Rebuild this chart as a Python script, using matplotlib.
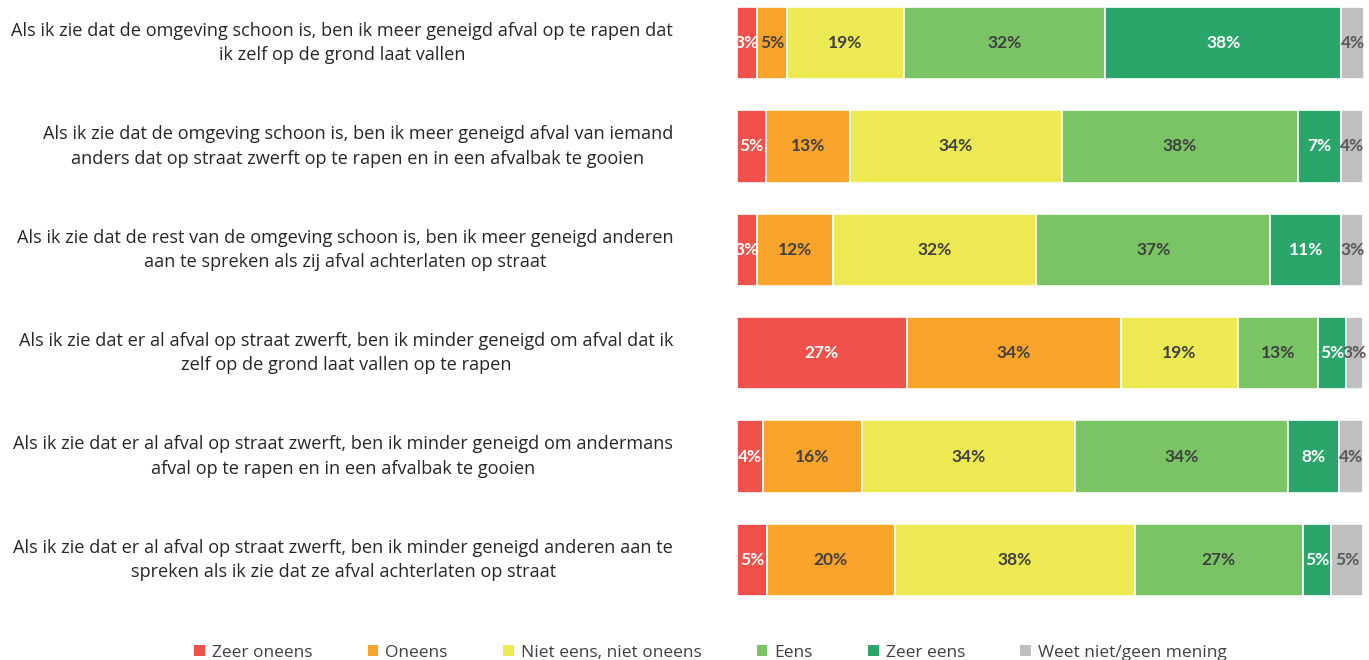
import numpy as np
import matplotlib.pyplot as plt
from matplotlib.patches import Patch

plt.rcParams['font.family'] = ['Open Sans', 'DejaVu Sans']

# Stellingen (van boven naar beneden)
stellingen = [
    "Als ik zie dat de omgeving schoon is, ben ik meer geneigd afval op te rapen dat\nik zelf op de grond laat vallen",
    "Als ik zie dat de omgeving schoon is, ben ik meer geneigd afval van iemand\nanders dat op straat zwerft op te rapen en in een afvalbak te gooien",
    "Als ik zie dat de rest van de omgeving schoon is, ben ik meer geneigd anderen\naan te spreken als zij afval achterlaten op straat",
    "Als ik zie dat er al afval op straat zwerft, ben ik minder geneigd om afval dat ik\nzelf op de grond laat vallen op te rapen",
    "Als ik zie dat er al afval op straat zwerft, ben ik minder geneigd om andermans\nafval op te rapen en in een afvalbak te gooien",
    "Als ik zie dat er al afval op straat zwerft, ben ik minder geneigd anderen aan te\nspreken als ik zie dat ze afval achterlaten op straat",
]

categorieen = ["Zeer oneens", "Oneens", "Niet eens, niet oneens", "Eens", "Zeer eens",
               "Weet niet/geen mening"]

zeer_oneens = [3.2, 4.6, 3.2, 27.1, 4.1, 4.8]
oneens = [4.8, 13.4, 12.1, 34.3, 15.8, 20.4]
neutraal = [18.7, 34.0, 32.5, 18.6, 34.1, 38.4]
eens = [32.1, 37.6, 37.4, 12.8, 34.0, 26.8]
zeer_eens = [37.8, 7.0, 11.4, 4.6, 8.2, 4.6]
weet_niet = [3.6, 3.5, 3.4, 2.6, 3.8, 5.0]

kleuren = ["#F0514B", "#F8A42A", "#ECE952", "#7AC466", "#2BA66B", "#BFBFBF"]
tekstkleuren = ["white", "#404040", "#404040", "#404040", "white", "#595959"]

reeksen = [zeer_oneens, oneens, neutraal, eens, zeer_eens, weet_niet]

fig = plt.figure(figsize=(13.69, 6.6), dpi=100)
ax = fig.add_axes([737 / 1369, 1 - 612 / 660, 627 / 1369, 612 / 660])

y = np.arange(len(stellingen))
links = np.zeros(len(stellingen))
for reeks, kleur, tkleur, naam in zip(reeksen, kleuren, tekstkleuren, categorieen):
    waarden = np.array(reeks)
    ax.barh(y, waarden, left=links, height=0.7, color=kleur, edgecolor="white",
            linewidth=1.2, label=naam)
    for yi, l, w in zip(y, links, waarden):
        ax.text(l + w / 2, yi, f"{w:.0f}%", ha="center", va="center",
                color=tkleur, fontsize=12.5, fontweight="bold", family=["Lato", "DejaVu Sans"])
    links += waarden

ax.set_xlim(0, links.max())
ax.set_ylim(5.503, -0.416)
ax.axis("off")

for yi, s in zip(y, stellingen):
    ax.text(-10.2, yi, s, ha="right", va="center", multialignment="center",
            fontsize=13.1, color="#262626", linespacing=1.45)

handles = [Patch(facecolor=k, edgecolor="none") for k in kleuren]
fig.legend(handles, categorieen, loc="lower center", bbox_to_anchor=(0.519, -0.025),
           ncol=6, frameon=False, fontsize=12.5, handlelength=0.6, handleheight=0.6,
           handletextpad=0.4, columnspacing=3.2, labelcolor="#404040")

fig.savefig("out.png", dpi=100)
